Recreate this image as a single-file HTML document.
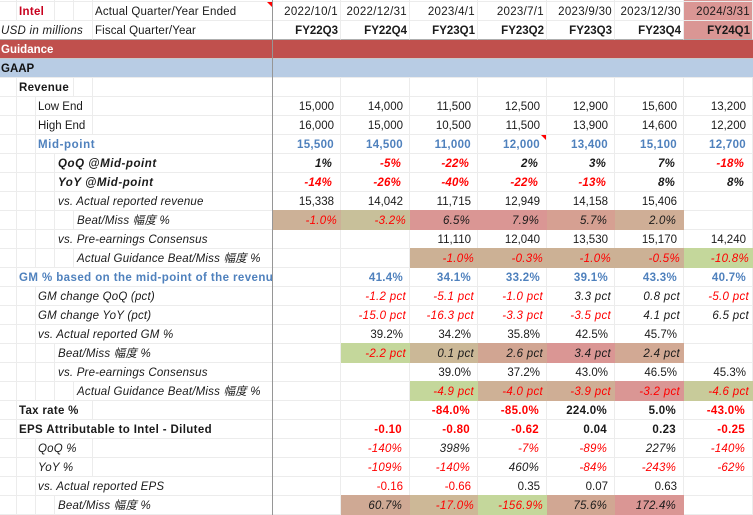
<!DOCTYPE html>
<html lang="en">
<head>
<meta charset="utf-8">
<title>Intel guidance table</title>
<style>
html,body{margin:0;padding:0;background:#fff;width:753px;height:515px;overflow:hidden}
#sheet{position:absolute;left:0;top:0;width:753px;height:515px;overflow:hidden;font:11.5px/16px "Liberation Sans","Noto Sans CJK TC",sans-serif;color:#1a1a1a}
table{border-collapse:separate;border-spacing:0;table-layout:fixed;width:753px;position:absolute;left:0;top:0}
td{box-sizing:border-box;height:19px;padding:2px 0 0 2px;border-right:1px solid #ececec;border-bottom:1px solid #ececec;white-space:nowrap;overflow:hidden;text-align:left}
tr.strip td{height:2px;font-size:0;line-height:0;padding:0}
td.n{text-align:right;padding-left:0;padding-right:6px}
td.p2{padding-right:2px;letter-spacing:.3px}td.p3{padding-right:3px;letter-spacing:.3px}td.p7{padding-right:7px}td.p8{padding-right:8px}
td.l3{padding-left:3px}td.l1{padding-left:1px}
.i{font-style:italic;letter-spacing:.2px}.B{font-weight:bold;letter-spacing:.3px}.B.i{letter-spacing:.55px}.r{color:#ff0000}.b{color:#4f81bd}
td.p2.B{letter-spacing:0}
td.n.B.i{letter-spacing:.2px}
td.hd{background:#da9694}
td.h{background:var(--h);border-color:var(--h);box-shadow:0 -1px 0 var(--h)}
tr.guid td{background:#c0504d;color:#fff;font-weight:bold;border-right:0;border-bottom:1px solid #c9c9c9}
tr.gaap td{background:#b8cce4;color:#111;font-weight:bold;border-right:0;border-bottom:1px solid #ececec}
tr.frz td{border-bottom-color:#aeaeae}
#frozen{position:absolute;left:272px;top:0;width:1px;height:515px;background:#969696}
.tri{position:absolute;width:0;height:0;border-top:5px solid #ff0000;border-left:5px solid transparent}
</style>
</head>
<body>
<div id="sheet">
<table>
<colgroup><col style="width:17px"><col style="width:19px"><col style="width:19px"><col style="width:19px"><col style="width:19px"><col style="width:180px"><col style="width:68px"><col style="width:69px"><col style="width:68px"><col style="width:69px"><col style="width:68px"><col style="width:69px"><col style="width:69px"></colgroup>
<tr class="strip"><td></td><td></td><td></td><td></td><td></td><td></td><td></td><td></td><td></td><td></td><td></td><td></td><td class="hd"></td></tr>
<tr><td></td><td colspan="2" class="B" style="color:#c8001e">Intel</td><td></td><td></td><td style="letter-spacing:.17px">Actual Quarter/Year Ended</td>
<td class="n p2">2022/10/1</td><td class="n p2">2022/12/31</td><td class="n p2">2023/4/1</td><td class="n p2">2023/7/1</td><td class="n p2">2023/9/30</td><td class="n p2">2023/12/30</td><td class="n p2 hd">2024/3/31</td></tr>
<tr class="frz"><td colspan="5" class="i l1" style="letter-spacing:.27px">USD in millions</td><td style="letter-spacing:.12px">Fiscal Quarter/Year</td>
<td class="n p2 B">FY22Q3</td><td class="n p2 B">FY22Q4</td><td class="n p2 B">FY23Q1</td><td class="n p2 B">FY23Q2</td><td class="n p2 B">FY23Q3</td><td class="n p2 B">FY23Q4</td><td class="n p2 B hd">FY24Q1</td></tr>
<tr class="guid"><td colspan="6" class="l1">Guidance</td><td colspan="7"></td></tr>
<tr class="gaap"><td colspan="6" class="l1">GAAP</td><td colspan="7"></td></tr>
<tr><td></td><td colspan="3" class="B">Revenue</td><td></td><td></td><td></td><td></td><td></td><td></td><td></td><td></td><td></td></tr>
<tr><td></td><td></td><td colspan="3">Low End</td><td></td>
<td class="n">15,000</td><td class="n">14,000</td><td class="n">11,500</td><td class="n">12,500</td><td class="n">12,900</td><td class="n">15,600</td><td class="n">13,200</td></tr>
<tr><td></td><td></td><td colspan="3">High End</td><td></td>
<td class="n">16,000</td><td class="n">15,000</td><td class="n">10,500</td><td class="n">11,500</td><td class="n">13,900</td><td class="n">14,600</td><td class="n">12,200</td></tr>
<tr><td></td><td></td><td colspan="4" class="B b" style="letter-spacing:.6px">Mid-point</td>
<td class="n B b">15,500</td><td class="n B b">14,500</td><td class="n B b">11,000</td><td class="n B b">12,000</td><td class="n B b">13,400</td><td class="n B b">15,100</td><td class="n B b">12,700</td></tr>
<tr><td></td><td></td><td></td><td colspan="3" class="B i l3">QoQ @Mid-point</td>
<td class="n p8 B i">1%</td><td class="n p8 B i r">-5%</td><td class="n p8 B i r">-22%</td><td class="n p8 B i">2%</td><td class="n p8 B i">3%</td><td class="n p8 B i">7%</td><td class="n p8 B i r">-18%</td></tr>
<tr><td></td><td></td><td></td><td colspan="3" class="B i l3">YoY @Mid-point</td>
<td class="n p8 B i r">-14%</td><td class="n p8 B i r">-26%</td><td class="n p8 B i r">-40%</td><td class="n p8 B i r">-22%</td><td class="n p8 B i r">-13%</td><td class="n p8 B i">8%</td><td class="n p8 B i">8%</td></tr>
<tr><td></td><td></td><td></td><td colspan="3" class="i l3">vs. Actual reported revenue</td>
<td class="n">15,338</td><td class="n">14,042</td><td class="n">11,715</td><td class="n">12,949</td><td class="n">14,158</td><td class="n">15,406</td><td></td></tr>
<tr><td></td><td></td><td></td><td></td><td colspan="2" class="i l3">Beat/Miss 幅度 %</td>
<td class="n p3 i r h" style="--h:#ccb197">-1.0%</td><td class="n p3 i r h" style="--h:#c8c09a">-3.2%</td><td class="n p7 i h" style="--h:#da9694">6.5%</td><td class="n p7 i h" style="--h:#da9694">7.9%</td><td class="n p7 i h" style="--h:#d6a092">5.7%</td><td class="n p7 i h" style="--h:#cfae96">2.0%</td><td></td></tr>
<tr><td></td><td></td><td></td><td colspan="3" class="i l3">vs. Pre-earnings Consensus</td>
<td></td><td></td><td class="n">11,110</td><td class="n">12,040</td><td class="n">13,530</td><td class="n">15,170</td><td class="n">14,240</td></tr>
<tr><td></td><td></td><td></td><td></td><td colspan="2" class="i l3">Actual Guidance Beat/Miss 幅度 %</td>
<td></td><td></td><td class="n p3 i r h" style="--h:#ccb195">-1.0%</td><td class="n p3 i r h" style="--h:#ccb195">-0.3%</td><td class="n p3 i r h" style="--h:#ccb195">-1.0%</td><td class="n p3 i r h" style="--h:#ccb195">-0.5%</td><td class="n p3 i r h" style="--h:#c4d79b">-10.8%</td></tr>
<tr><td></td><td colspan="5" class="B b" style="letter-spacing:.42px">GM % based on the mid-point of the revenue guidance</td>
<td></td><td class="n B b">41.4%</td><td class="n B b">34.1%</td><td class="n B b">33.2%</td><td class="n B b">39.1%</td><td class="n B b">43.3%</td><td class="n B b">40.7%</td></tr>
<tr><td></td><td></td><td colspan="4" class="i">GM change QoQ (pct)</td>
<td></td><td class="n p3 i r">-1.2 pct</td><td class="n p3 i r">-5.1 pct</td><td class="n p3 i r">-1.0 pct</td><td class="n p3 i">3.3 pct</td><td class="n p3 i">0.8 pct</td><td class="n p3 i r">-5.0 pct</td></tr>
<tr><td></td><td></td><td colspan="4" class="i">GM change YoY (pct)</td>
<td></td><td class="n p3 i r">-15.0 pct</td><td class="n p3 i r">-16.3 pct</td><td class="n p3 i r">-3.3 pct</td><td class="n p3 i r">-3.5 pct</td><td class="n p3 i">4.1 pct</td><td class="n p3 i">6.5 pct</td></tr>
<tr><td></td><td></td><td colspan="4" class="i">vs. Actual reported GM %</td>
<td></td><td class="n">39.2%</td><td class="n">34.2%</td><td class="n">35.8%</td><td class="n">42.5%</td><td class="n">45.7%</td><td></td></tr>
<tr><td></td><td></td><td></td><td colspan="3" class="i l3">Beat/Miss 幅度 %</td>
<td></td><td class="n p3 i r h" style="--h:#c4d79b">-2.2 pct</td><td class="n p3 i h" style="--h:#cbb897">0.1 pct</td><td class="n p3 i h" style="--h:#d1a592">2.6 pct</td><td class="n p3 i h" style="--h:#da9694">3.4 pct</td><td class="n p3 i h" style="--h:#d2a994">2.4 pct</td><td></td></tr>
<tr><td></td><td></td><td></td><td colspan="3" class="i l3">vs. Pre-earnings Consensus</td>
<td></td><td></td><td class="n">39.0%</td><td class="n">37.2%</td><td class="n">43.0%</td><td class="n">46.5%</td><td class="n">45.3%</td></tr>
<tr><td></td><td></td><td></td><td></td><td colspan="2" class="i l3">Actual Guidance Beat/Miss 幅度 %</td>
<td></td><td></td><td class="n p3 i r h" style="--h:#c4d79b">-4.9 pct</td><td class="n p3 i r h" style="--h:#ceb196">-4.0 pct</td><td class="n p3 i r h" style="--h:#cfae95">-3.9 pct</td><td class="n p3 i r h" style="--h:#da9694">-3.2 pct</td><td class="n p3 i r h" style="--h:#c8cb9a">-4.6 pct</td></tr>
<tr><td></td><td colspan="4" class="B">Tax rate %</td><td></td>
<td></td><td></td><td class="n p7 B r">-84.0%</td><td class="n p7 B r">-85.0%</td><td class="n p7 B">224.0%</td><td class="n p7 B">5.0%</td><td class="n p7 B r">-43.0%</td></tr>
<tr><td></td><td colspan="5" class="B" style="letter-spacing:.36px">EPS Attributable to Intel - Diluted</td>
<td></td><td class="n p7 B r">-0.10</td><td class="n p7 B r">-0.80</td><td class="n p7 B r">-0.62</td><td class="n p7 B">0.04</td><td class="n p7 B">0.23</td><td class="n p7 B r">-0.25</td></tr>
<tr><td></td><td></td><td colspan="3" class="i">QoQ %</td><td></td>
<td></td><td class="n p7 i r">-140%</td><td class="n p7 i">398%</td><td class="n p7 i r">-7%</td><td class="n p7 i r">-89%</td><td class="n p7 i">227%</td><td class="n p7 i r">-140%</td></tr>
<tr><td></td><td></td><td colspan="3" class="i">YoY %</td><td></td>
<td></td><td class="n p7 i r">-109%</td><td class="n p7 i r">-140%</td><td class="n p7 i">460%</td><td class="n p7 i r">-84%</td><td class="n p7 i r">-243%</td><td class="n p7 i r">-62%</td></tr>
<tr><td></td><td></td><td colspan="4" class="i">vs. Actual reported EPS</td>
<td></td><td class="n r">-0.16</td><td class="n r">-0.66</td><td class="n">0.35</td><td class="n">0.07</td><td class="n">0.63</td><td></td></tr>
<tr><td></td><td></td><td></td><td colspan="3" class="i l3">Beat/Miss 幅度 %</td>
<td></td><td class="n p7 i h" style="--h:#cfa994">60.7%</td><td class="n p3 i r h" style="--h:#cdb897">-17.0%</td><td class="n p3 i r h" style="--h:#c4d79b">-156.9%</td><td class="n p7 i h" style="--h:#d1a793">75.6%</td><td class="n p7 i h" style="--h:#da9694">172.4%</td><td></td></tr>
</table>
<div id="frozen"></div>
<div class="tri" style="left:267px;top:2px"></div>
<div class="tri" style="left:541px;top:135px"></div>
</div>
</body>
</html>
